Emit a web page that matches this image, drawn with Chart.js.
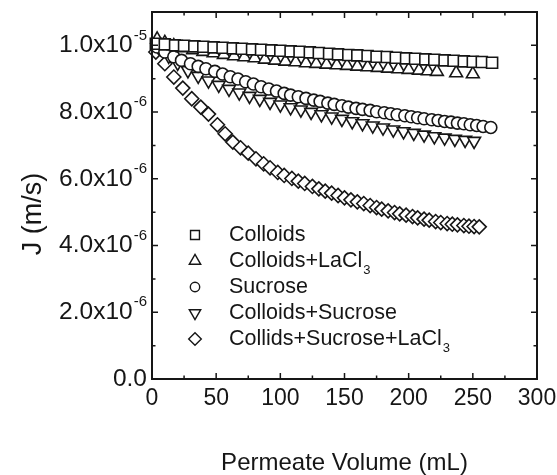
<!DOCTYPE html>
<html lang="en">
<head>
<meta charset="UTF-8">
<title>Permeate flux</title>
<style>
  body { margin: 0; background: #fff; }
  #wrap { width: 557px; height: 475px; }
</style>
</head>
<body>
<div id="wrap"><canvas id="flux" width="557" height="475"></canvas></div>
<script src="https://cdn.jsdelivr.net/npm/chart.js"></script>
<script>
// permeate volume in mL, flux J in units of 1e-6 m/s
const colloidsVol = [3, 10, 18, 25, 33, 40, 48, 55, 63, 70, 78, 85, 93, 100, 108, 115, 123, 130, 138, 145, 153, 160, 168, 175, 183, 190, 198, 205, 213, 220, 228, 235, 243, 250, 257, 265];
const colloidsJ = [10.05, 10.03, 10.00, 9.99, 9.97, 9.96, 9.94, 9.93, 9.91, 9.90, 9.88, 9.87, 9.85, 9.84, 9.82, 9.81, 9.79, 9.77, 9.75, 9.73, 9.71, 9.70, 9.68, 9.66, 9.65, 9.63, 9.61, 9.60, 9.58, 9.57, 9.55, 9.54, 9.52, 9.51, 9.50, 9.48];

const lanthanumVol = [4, 10, 17, 24, 32, 40, 48, 56, 64, 72, 80, 88, 96, 104, 112, 120, 128, 136, 144, 152, 160, 168, 176, 184, 192, 200, 208, 215, 222, 237, 250];
const lanthanumJ = [10.18, 10.08, 9.98, 9.92, 9.86, 9.81, 9.77, 9.72, 9.68, 9.65, 9.62, 9.58, 9.55, 9.52, 9.50, 9.47, 9.45, 9.43, 9.41, 9.39, 9.37, 9.35, 9.33, 9.31, 9.29, 9.27, 9.25, 9.23, 9.21, 9.17, 9.14];

const sucroseVol = [4, 10, 17, 23, 30, 36, 42, 49, 55, 61, 67, 73, 79, 85, 91, 97, 103, 108, 114, 120, 126, 131, 137, 142, 148, 153, 159, 164, 170, 175, 181, 186, 191, 197, 202, 207, 212, 218, 223, 228, 233, 238, 243, 248, 253, 258, 264];
const sucroseJ = [9.95, 9.80, 9.66, 9.55, 9.45, 9.37, 9.30, 9.22, 9.14, 9.06, 8.99, 8.91, 8.84, 8.76, 8.69, 8.63, 8.56, 8.51, 8.46, 8.41, 8.36, 8.32, 8.27, 8.23, 8.19, 8.15, 8.11, 8.08, 8.05, 8.01, 7.98, 7.95, 7.92, 7.89, 7.86, 7.83, 7.80, 7.77, 7.75, 7.72, 7.70, 7.67, 7.65, 7.62, 7.60, 7.57, 7.54];

const colSucVol = [5, 13, 20, 28, 36, 44, 52, 60, 68, 76, 84, 92, 100, 108, 116, 124, 132, 140, 148, 156, 164, 172, 180, 188, 196, 204, 212, 220, 228, 236, 244, 251];
const colSucJ = [9.95, 9.68, 9.47, 9.25, 9.08, 8.94, 8.81, 8.69, 8.58, 8.48, 8.39, 8.30, 8.22, 8.14, 8.07, 8.00, 7.93, 7.86, 7.79, 7.72, 7.66, 7.59, 7.53, 7.47, 7.42, 7.37, 7.32, 7.27, 7.23, 7.19, 7.16, 7.13];

const allVol = [3, 10, 17, 24, 31, 38, 44, 51, 57, 63, 69, 75, 81, 87, 92, 98, 103, 109, 114, 119, 125, 130, 135, 140, 145, 150, 155, 160, 165, 170, 175, 179, 184, 189, 193, 198, 203, 207, 212, 216, 221, 225, 230, 234, 238, 243, 247, 251, 255];
const allJ = [9.80, 9.45, 9.05, 8.72, 8.40, 8.15, 7.94, 7.62, 7.35, 7.10, 6.93, 6.77, 6.60, 6.45, 6.33, 6.19, 6.10, 6.01, 5.93, 5.86, 5.77, 5.70, 5.63, 5.57, 5.50, 5.43, 5.37, 5.31, 5.26, 5.20, 5.14, 5.09, 5.04, 4.99, 4.95, 4.91, 4.87, 4.83, 4.79, 4.76, 4.72, 4.69, 4.66, 4.64, 4.62, 4.60, 4.58, 4.57, 4.56];

const xTicks = [0, 50, 100, 150, 200, 250, 300];
const yTicks = [0, 2, 4, 6, 8, 10];
const yTickBase = ['0.0', '2.0x10', '4.0x10', '6.0x10', '8.0x10', '1.0x10'];
const yTickExp = ['', '-6', '-6', '-6', '-6', '-5'];

const seriesNames = ['Colloids', 'Colloids+LaCl', 'Sucrose', 'Colloids+Sucrose', 'Collids+Sucrose+LaCl'];
const seriesSubs = ['', '3', '', '', '3'];

const INK = '#161616';
const FONT = '"Liberation Sans", Arial, sans-serif';

// radius on the plot, and a smaller one for the key
const markers = [
  { pointStyle: 'rect', radius: 7.8, key: 6.3, rotation: 0 },
  { pointStyle: 'triangle', radius: 7.4, key: 6.6, rotation: 0 },
  { pointStyle: 'circle', radius: 6.0, key: 4.7, rotation: 0 },
  { pointStyle: 'triangle', radius: 7.4, key: 6.6, rotation: 180 },
  { pointStyle: 'rectRot', radius: 7.0, key: 6.3, rotation: 0 }
];

const pairs = (xs, ys) => xs.map((v, i) => ({ x: v, y: ys[i] }));
const seriesData = [
  pairs(colloidsVol, colloidsJ),
  pairs(lanthanumVol, lanthanumJ),
  pairs(sucroseVol, sucroseJ),
  pairs(colSucVol, colSucJ),
  pairs(allVol, allJ)
];

const datasets = seriesData.map((d, i) => ({
  label: seriesNames[i] + seriesSubs[i],
  data: d,
  showLine: false,
  pointStyle: markers[i].pointStyle,
  pointRadius: markers[i].radius,
  pointRotation: markers[i].rotation,
  pointBackgroundColor: '#fff',
  pointBorderColor: INK,
  pointBorderWidth: 1.6,
  clip: 8
}));

function marker(ctx, m, x, y) {
  const h = Chart.helpers;
  if (h && h.drawPoint) {
    ctx.fillStyle = '#fff';
    ctx.strokeStyle = INK;
    ctx.lineWidth = 1.4;
    h.drawPoint(ctx, { pointStyle: m.pointStyle, radius: m.key, rotation: m.rotation, borderWidth: 1.4 }, x, y);
  }
}

// frame, inward ticks, tick labels, titles and legend
const decor = {
  id: 'decor',
  afterDatasetsDraw(chart) {
    const { ctx, chartArea: a, scales: { x, y } } = chart;
    ctx.save();
    ctx.strokeStyle = INK;
    ctx.lineWidth = 2;
    ctx.strokeRect(a.left, a.top, a.right - a.left, a.bottom - a.top);

    ctx.lineWidth = 1.5;
    ctx.beginPath();
    const xMinor = xTicks.slice(1).map((v, i) => (v + xTicks[i]) / 2);
    const yMinor = yTicks.slice(1).map((v, i) => (v + yTicks[i]) / 2);
    xTicks.concat(xMinor).forEach((v, i) => {
      const len = i < xTicks.length ? 6 : 3.5;
      const px = x.getPixelForValue(v);
      ctx.moveTo(px, a.bottom); ctx.lineTo(px, a.bottom - len);
      ctx.moveTo(px, a.top); ctx.lineTo(px, a.top + len);
    });
    yTicks.concat(yMinor).forEach((v, i) => {
      const len = i < yTicks.length ? 6 : 3.5;
      const py = y.getPixelForValue(v);
      ctx.moveTo(a.left, py); ctx.lineTo(a.left + len, py);
      ctx.moveTo(a.right, py); ctx.lineTo(a.right - len, py);
    });
    ctx.stroke();

    ctx.fillStyle = INK;
    ctx.textBaseline = 'middle';

    // x tick labels
    ctx.font = '23px ' + FONT;
    ctx.textAlign = 'center';
    xTicks.forEach(v => ctx.fillText(String(v), x.getPixelForValue(v), a.bottom + 20));

    // y tick labels with superscript powers
    yTicks.forEach((v, i) => {
      const py = y.getPixelForValue(v);
      const right = a.left - 5;
      ctx.font = '15px ' + FONT;
      const ew = yTickExp[i] ? ctx.measureText(yTickExp[i]).width : 0;
      if (yTickExp[i]) {
        ctx.textAlign = 'right';
        ctx.fillText(yTickExp[i], right, py - 10);
      }
      ctx.font = '24.5px ' + FONT;
      ctx.textAlign = 'right';
      ctx.fillText(yTickBase[i], right - ew - (ew ? 1 : 0), py);
    });

    // axis titles
    ctx.font = '24px ' + FONT;
    ctx.textAlign = 'center';
    ctx.fillText('Permeate Volume (mL)', (a.left + a.right) / 2, 463);
    ctx.save();
    ctx.translate(34, 214);
    ctx.rotate(-Math.PI / 2);
    ctx.font = '27px ' + FONT;
    ctx.fillText('J (m/s)', 0, 0);
    ctx.restore();

    // legend
    seriesNames.forEach((name, i) => {
      const ly = 235 + i * 26;
      marker(ctx, markers[i], 195, ly);
      ctx.fillStyle = INK;
      ctx.font = '21.5px ' + FONT;
      ctx.textAlign = 'left';
      ctx.fillText(name, 229, ly);
      if (seriesSubs[i]) {
        const w = ctx.measureText(name).width;
        ctx.font = '13px ' + FONT;
        ctx.fillText(seriesSubs[i], 229 + w + 1, ly + 9);
      }
    });
    ctx.restore();
  }
};

new Chart(document.getElementById('flux'), {
  type: 'scatter',
  data: { datasets },
  options: {
    responsive: false,
    animation: false,
    devicePixelRatio: 1,
    layout: { padding: { left: 152, right: 20, top: 12, bottom: 96 } },
    scales: {
      x: { type: 'linear', min: 0, max: 300, display: false },
      y: { type: 'linear', min: 0, max: 11, display: false }
    },
    plugins: {
      legend: { display: false },
      tooltip: { enabled: false }
    }
  },
  plugins: [decor]
});
</script>
</body>
</html>
